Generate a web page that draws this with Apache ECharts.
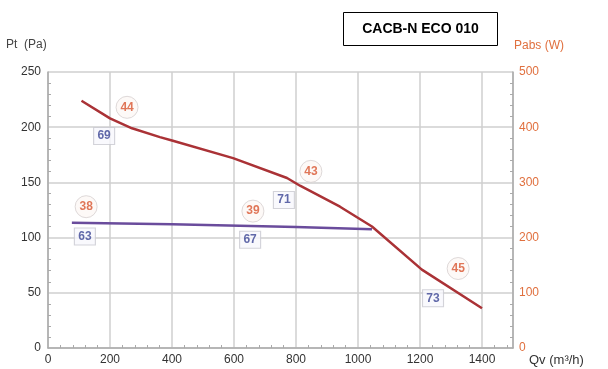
<!DOCTYPE html>
<html>
<head>
<meta charset="utf-8">
<script src="https://cdn.jsdelivr.net/npm/echarts@6/dist/echarts.min.js"></script>
<style>
  html, body { margin: 0; padding: 0; background: #fff; }
  #chart { width: 608px; height: 369px; }
</style>
</head>
<body>
<div id="chart"></div>
<script>
// Fan curve: total pressure (Pa) vs airflow, plus absorbed power (W)
const flowTicks = [0, 200, 400, 600, 800, 1000, 1200, 1400];

// Pressure curve Pt (Pa) over airflow Qv (m³/h)
const ptFlow = [108, 200, 271, 361, 400, 597, 771, 813, 942, 1045, 1206, 1400];
const ptValues = [224, 208, 199, 191, 188, 172, 154, 147, 128, 110, 71, 36];

// Absorbed power Pabs (W) over airflow
const pabsFlow = [77, 400, 800, 1045];
const pabsValues = [227, 224, 219, 215];

// Efficiency markers (circled), placed on the Pt scale
const effFlow = [255, 848, 123, 661, 1323];
const effPt = [218, 160, 128, 124, 72];
const effLabels = ['44', '43', '38', '39', '45'];

// Sound level markers (boxed), placed on the Pt scale
const soundFlow = [181, 761, 119, 652, 1242];
const soundPt = [192, 134, 101, 98, 45];
const soundLabels = ['69', '71', '63', '67', '73'];

const chart = echarts.init(document.getElementById('chart'), null, { renderer: 'canvas' });

const tickFont = { fontFamily: 'Liberation Sans, Arial, sans-serif', fontSize: 12 };

chart.setOption({
  animation: false,
  backgroundColor: '#ffffff',
  grid: { left: 48, right: 95, top: 72, bottom: 21 },
  xAxis: {
    type: 'value',
    min: 0, max: 1500, interval: 200,
    axisLine: { show: true, lineStyle: { color: '#aaaaaa', width: 1.5 } },
    axisTick: { show: false, inside: true },
    minorTick: { show: true, splitNumber: 5, length: 3, lineStyle: { color: '#aaaaaa' } },
    splitLine: { show: true, lineStyle: { color: '#cfcfcf', width: 1.5 } },
    axisLabel: {
      ...tickFont, color: '#333', margin: 6, showMaxLabel: false,
      formatter: v => flowTicks.includes(v) ? String(v) : ''
    }
  },
  yAxis: [
    {
      type: 'value', min: 0, max: 250, interval: 50,
      axisLine: { show: true, lineStyle: { color: '#aaaaaa', width: 1.5 } },
      axisTick: { show: false, inside: true },
      minorTick: { show: true, splitNumber: 5, length: 3, lineStyle: { color: '#aaaaaa' } },
      splitLine: { show: true, lineStyle: { color: '#cfcfcf', width: 1.5 } },
      axisLabel: { ...tickFont, color: '#333', margin: 7 }
    },
    {
      type: 'value', min: 0, max: 500, interval: 100, position: 'right',
      axisLine: { show: true, lineStyle: { color: '#aaaaaa', width: 1.5 } },
      axisTick: { show: false, inside: true },
      minorTick: { show: true, splitNumber: 5, length: 3, lineStyle: { color: '#aaaaaa' } },
      splitLine: { show: false },
      axisLabel: { ...tickFont, color: '#e0703f', margin: 6 }
    }
  ],
  series: [
    {
      type: 'line', yAxisIndex: 1, symbol: 'none', smooth: false,
      lineStyle: { color: '#6a4c9c', width: 2.5 },
      data: pabsFlow.map((x, i) => [x, pabsValues[i]]),
      z: 3
    },
    {
      type: 'line', yAxisIndex: 0, symbol: 'none', smooth: false,
      lineStyle: { color: '#aa3236', width: 2.5 },
      data: ptFlow.map((x, i) => [x, ptValues[i]]),
      z: 4
    },
    {
      type: 'scatter', yAxisIndex: 0, symbol: 'circle', symbolSize: 22,
      itemStyle: { color: '#fdf7f5', borderColor: '#d6d0d0', borderWidth: 1 },
      label: {
        show: true, position: 'inside', color: '#d8552f', fontWeight: 'bold',
        fontSize: 12, fontFamily: 'Liberation Sans, Arial, sans-serif',
        formatter: p => effLabels[p.dataIndex]
      },
      data: effFlow.map((x, i) => [x, effPt[i]]),
      z: 5
    },
    {
      type: 'scatter', yAxisIndex: 0, symbol: 'rect', symbolSize: [21, 17],
      itemStyle: { color: '#f7f8fc', borderColor: '#c8c8d0', borderWidth: 1 },
      label: {
        show: true, position: 'inside', color: '#3a4494', fontWeight: 'bold',
        fontSize: 12, fontFamily: 'Liberation Sans, Arial, sans-serif',
        formatter: p => soundLabels[p.dataIndex]
      },
      data: soundFlow.map((x, i) => [x, soundPt[i]]),
      z: 5
    }
  ],
  graphic: [
    {
      type: 'group', left: 343, top: 12,
      children: [
        { type: 'rect', shape: { x: 0, y: 0, width: 154, height: 33 },
          style: { fill: '#ffffff', stroke: '#000000', lineWidth: 1 } },
        { type: 'text', x: 77, y: 17,
          style: { text: 'CACB-N ECO 010', fill: '#000', fontWeight: 'bold', fontSize: 14,
                   fontFamily: 'Liberation Sans, Arial, sans-serif', align: 'center', verticalAlign: 'middle' } }
      ]
    },
    { type: 'text', left: 6, top: 39,
      style: { text: 'Pt  (Pa)', fill: '#444', fontSize: 12, fontFamily: 'Liberation Sans, Arial, sans-serif' } },
    { type: 'text', left: 514, top: 40,
      style: { text: 'Pabs (W)', fill: '#e0703f', fontSize: 12, fontFamily: 'Liberation Sans, Arial, sans-serif' } },
    { type: 'text', left: 529, top: 354,
      style: { text: 'Qv (m³/h)', fill: '#333', fontSize: 13, fontFamily: 'Liberation Sans, Arial, sans-serif' } }
  ]
});
</script>
</body>
</html>
